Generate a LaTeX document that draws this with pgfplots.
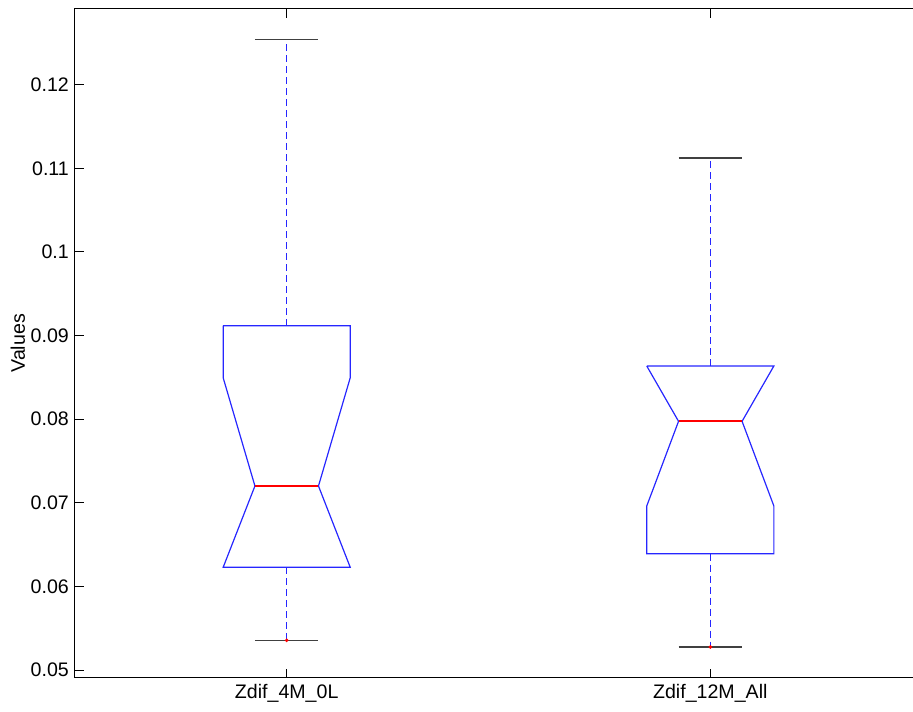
\documentclass[border=0pt]{standalone}
\usepackage{fontspec}
\setmainfont{Liberation Sans}
\usepackage{pgfplots}
\pgfplotsset{compat=1.18}
\begin{document}
\begin{tikzpicture}
\begin{axis}[
  at={(37.45pt,16.65pt)}, anchor=south west,
  scale only axis, width=423.6pt, height=334.35pt,
  xmin=0.5, xmax=2.5, ymin=0.049079, ymax=0.129067,
  xtick={1,2}, xticklabels={Zdif\_4M\_0L, Zdif\_12M\_All},
  ytick={0.05,0.06,0.07,0.08,0.09,0.1,0.11,0.12},
  yticklabels={0.05,0.06,0.07,0.08,0.09,0.1,0.11,0.12},
  xtick pos=both, ytick pos=both, tick align=inside,
  major tick length=4.5pt,
  every tick/.style={black, line width=0.5pt},
  axis line style={line width=0.5pt},
  tick label style={font=\fontsize{9.8pt}{11.8pt}\selectfont},
  yticklabel style={xshift=0.5pt},
  ylabel={Values},
  ylabel style={font=\fontsize{9.8pt}{11.8pt}\selectfont, at={(axis description cs:-0.0673,0.5)}, anchor=center},
  clip=false,
]
% Box 1
\addplot[blue!85!white, line width=0.6pt] coordinates {(0.85,0.09118) (1.15,0.09118) (1.15,0.08496) (1.075,0.07201) (1.15,0.06228) (0.85,0.06228) (0.925,0.07201) (0.85,0.08496) (0.85,0.09118)};
\addplot[red, line width=0.8pt] coordinates {(0.925,0.07201) (1.075,0.07201)};
\addplot[blue!85!white, line width=0.6pt, dash pattern=on 3.5pt off 2pt] coordinates {(1,0.09118) (1,0.12544)};
\addplot[blue!85!white, line width=0.6pt, dash pattern=on 3.5pt off 2pt] coordinates {(1,0.06228) (1,0.05355)};
\addplot[black!75, line width=0.55pt] coordinates {(0.925,0.12544) (1.075,0.12544)};
\addplot[black!75, line width=0.55pt] coordinates {(0.925,0.05355) (1.075,0.05355)};
\addplot[only marks, mark=*, mark size=0.7pt, red] coordinates {(1,0.05355)};
% Box 2
\addplot[blue!85!white, line width=0.6pt] coordinates {(1.85,0.08636) (2.15,0.08636) (2.075,0.07975) (2.15,0.06962) (2.15,0.06391) (1.85,0.06391) (1.85,0.06962) (1.925,0.07975) (1.85,0.08636)};
\addplot[red, line width=0.8pt] coordinates {(1.925,0.07978) (2.075,0.07978)};
\addplot[blue!85!white, line width=0.6pt, dash pattern=on 3.5pt off 2pt] coordinates {(2,0.08636) (2,0.11124)};
\addplot[blue!85!white, line width=0.6pt, dash pattern=on 3.5pt off 2pt] coordinates {(2,0.06391) (2,0.05275)};
\addplot[black!75, line width=0.55pt] coordinates {(1.925,0.11124) (2.075,0.11124)};
\addplot[black!75, line width=0.55pt] coordinates {(1.925,0.05275) (2.075,0.05275)};
\addplot[only marks, mark=*, mark size=0.7pt, red] coordinates {(2,0.05275)};
\end{axis}
\pgfresetboundingbox
\useasboundingbox (0,0) rectangle (456.5pt,355.5pt);
\end{tikzpicture}
\end{document}
